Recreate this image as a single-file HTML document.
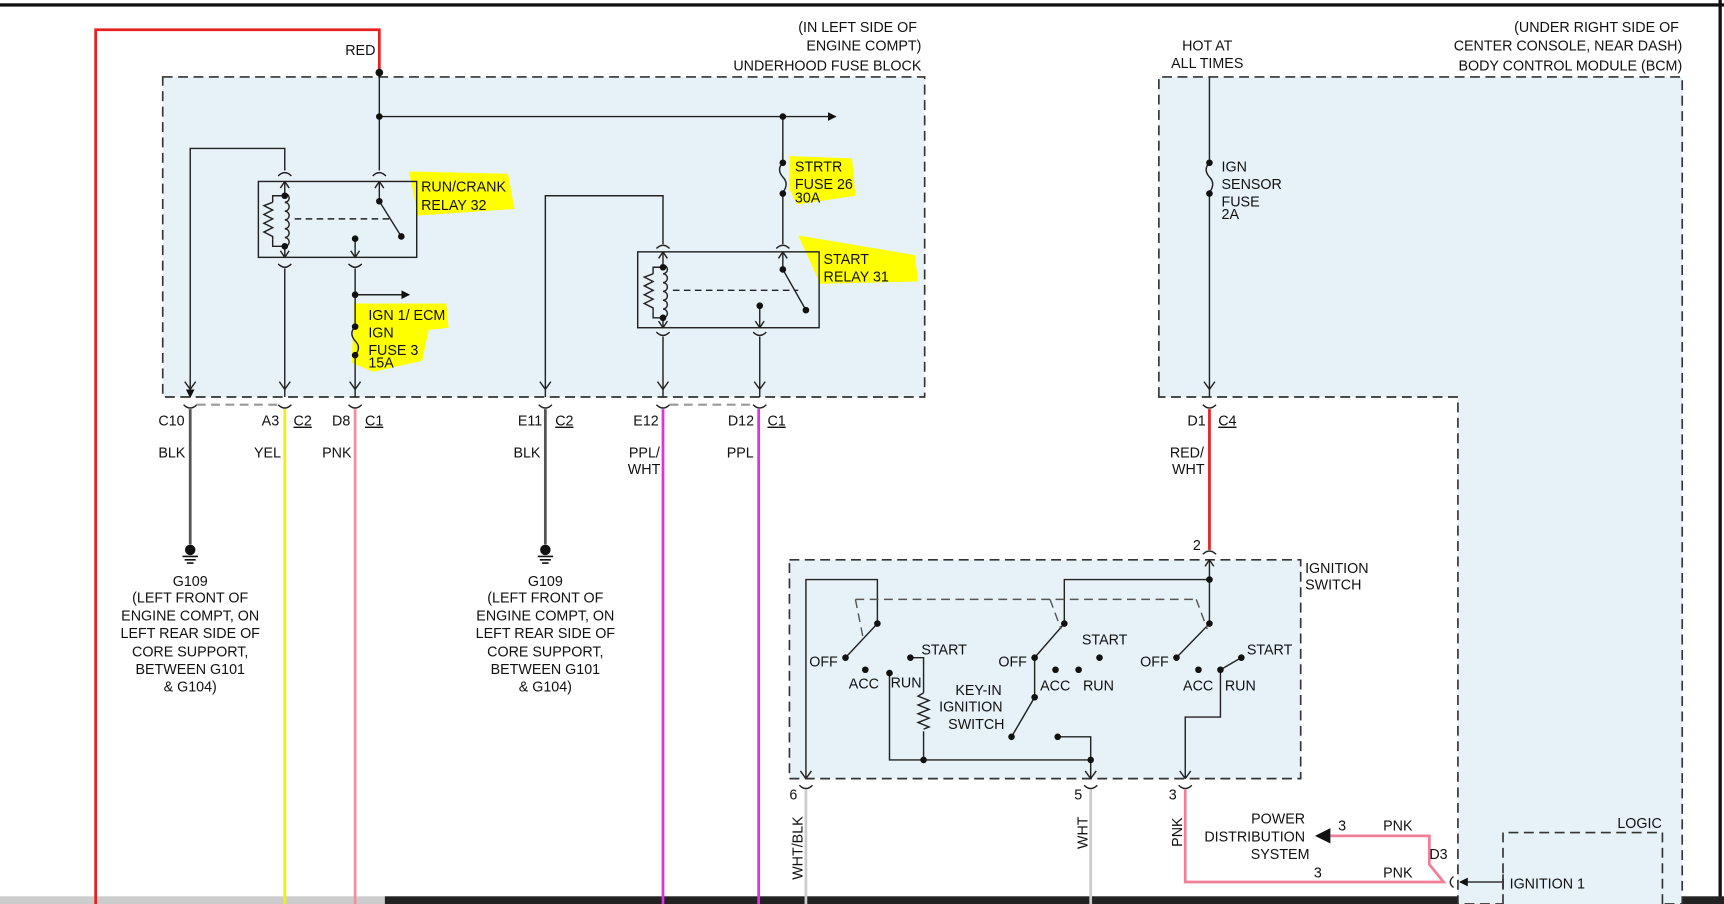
<!DOCTYPE html>
<html><head><meta charset="utf-8"><style>
html,body{margin:0;padding:0;background:#fff}
svg{display:block}
text{font-family:"Liberation Sans",sans-serif;font-size:13px;fill:#111}
</style></head><body>
<svg width="1724" height="904" viewBox="0 0 1568 822" preserveAspectRatio="none" xmlns="http://www.w3.org/2000/svg">
<defs>
<marker id="a" markerWidth="8" markerHeight="8" refX="7" refY="4" orient="auto" markerUnits="userSpaceOnUse"><path d="M0,0 L8,4 L0,8 z" fill="#111"/></marker>
</defs>
<rect width="1568" height="822" fill="#fff"/>
<rect x="0" y="3" width="1568" height="3" fill="#111"/>
<rect x="1563" y="0" width="3" height="822" fill="#111"/>
<rect x="0" y="815" width="350" height="7" fill="#ccc"/>
<rect x="350" y="815" width="1218" height="7" fill="#222"/>
<g stroke="#333" stroke-width="1.5" stroke-dasharray="9,5" fill="#e6f2f8">
<rect x="148" y="70" width="693" height="291"/>
<path d="M1054,361 L1054,70 L1530,70 L1530,822 L1326,822 L1326,361 Z"/>
<rect x="718" y="509" width="465" height="199"/>
<path d="M1367,822 L1367,757 L1512,757 L1512,822"/>
</g>
<g fill="#ffff00">
<path d="M372,156 L462,158 L468,190 L380,196 Z"/>
<path d="M718,142 L775,144 L778,178 L725,186 L718,172 Z"/>
<path d="M726,214 L832,232 L835,256 L746,258 Z"/>
<path d="M322,276 L406,276 L408,298 L390,300 L384,328 L340,338 L320,330 Z"/>
</g>
<path d="M87,822 L87,27 L345,27 L345,66" stroke="#e82020" stroke-width="2.5" fill="none"/>
<g stroke="#222" stroke-width="1.3" fill="none">
<path d="M345,66 L345,155"/>
<path d="M345,106 L760,106" marker-end="url(#a)"/>
<path d="M712,106 L712,148 M712,176 L712,222"/>
<path d="M712,148 q-6,6 0,13 q6,6 0,14"/>
<rect x="235" y="165" width="144" height="69"/>
<path d="M173,361 L173,135 L259,135 L259,155" />
<path d="M173,350 L173,361" marker-end="url(#a)"/>
<path d="M259,165 L259,176 M259,224 L259,234"/>
<path d="M259,176 a4,4 0 0 1 0,8 a4,4 0 0 1 0,8 a4,4 0 0 1 0,8 a4,4 0 0 1 0,8 a4,4 0 0 1 0,8 a4,4 0 0 1 0,8"/>
<path d="M259,178 L248,178 L248,184 M248,218 L248,224 L259,224"/>
<path d="M248,184 l-8,3 l8,4 l-8,4 l8,4 l-8,4 l8,4 l-8,4 l8,4 l0,3"/>
<path d="M268,199 L356,199" stroke-dasharray="6,4"/>
<path d="M345,165 L345,183 L365,215"/>
<path d="M323,217 L323,234"/>
<path d="M259,244 L259,361 M323,244 L323,297 M323,323 L323,361"/>
<path d="M323,297 q-6,6 0,13 q6,6 0,13"/>
<path d="M323,268 L372,268" marker-end="url(#a)"/>
<path d="M496,361 L496,178 L603,178 L603,222"/>
<rect x="580" y="229" width="165" height="69"/>
<path d="M603,229 L603,241 M603,289 L603,298"/>
<path d="M603,241 a4,4 0 0 1 0,8 a4,4 0 0 1 0,8 a4,4 0 0 1 0,8 a4,4 0 0 1 0,8 a4,4 0 0 1 0,8 a4,4 0 0 1 0,8"/>
<path d="M603,243 L594,243 L594,249 M594,283 L594,289 L603,289"/>
<path d="M594,249 l-8,3 l8,4 l-8,4 l8,4 l-8,4 l8,4 l-8,4 l8,4 l0,3"/>
<path d="M612,264 L726,264" stroke-dasharray="6,4"/>
<path d="M712,229 L712,245 L733,282"/>
<path d="M691,278 L691,298"/>
<path d="M603,306 L603,361 M691,306 L691,361"/>
<path d="M1100,70 L1100,148 M1100,176 L1100,361"/>
<path d="M1100,148 q-6,6 0,13 q6,6 0,14"/>
</g>
<g stroke="#222" stroke-width="1.3" fill="none">
<path d="M173,354 l-5,-7 M173,354 l5,-7 M259,354 l-5,-7 M259,354 l5,-7 M323,354 l-5,-7 M323,354 l5,-7 M496,354 l-5,-7 M496,354 l5,-7 M603,354 l-5,-7 M603,354 l5,-7 M691,354 l-5,-7 M691,354 l5,-7 M1100,354 l-5,-7 M1100,354 l5,-7"/>
<path d="M259,234 l-4,-6 M259,234 l4,-6 M259,165 l-4,6 M259,165 l4,6 M345,165 l-4,6 M345,165 l4,6 M323,234 l-4,-6 M323,234 l4,-6 M603,229 l-4,6 M603,229 l4,6 M603,298 l-4,-6 M603,298 l4,-6 M712,229 l-4,6 M712,229 l4,6 M691,298 l-4,-6 M691,298 l4,-6"/>
<path d="M253,160 q6,-6 12,0 M339,160 q6,-6 12,0 M253,240 q6,6 12,0 M317,240 q6,6 12,0 M597,226 q6,-6 12,0 M706,226 q6,-6 12,0 M597,302 q6,6 12,0 M685,302 q6,6 12,0"/>
<path d="M167,368 q6,6 12,0 M253,368 q6,6 12,0 M317,368 q6,6 12,0 M490,368 q6,6 12,0 M597,368 q6,6 12,0 M685,368 q6,6 12,0 M1094,368 q6,6 12,0"/>
</g>
<g stroke="#999" stroke-width="2" stroke-dasharray="8,5"><path d="M179,368 L253,368 M609,368 L685,368"/></g>
<g fill="#111">
<circle cx="345" cy="66" r="3.5"/><circle cx="345" cy="106" r="3"/><circle cx="712" cy="106" r="3"/>
<circle cx="712" cy="148" r="3"/><circle cx="712" cy="176" r="3"/>
<circle cx="259" cy="178" r="3"/><circle cx="259" cy="224" r="3"/><circle cx="345" cy="183" r="3"/><circle cx="365" cy="215" r="3"/><circle cx="323" cy="217" r="3"/>
<circle cx="323" cy="268" r="3"/><circle cx="323" cy="297" r="3"/><circle cx="323" cy="323" r="3"/>
<circle cx="603" cy="243" r="3"/><circle cx="603" cy="289" r="3"/><circle cx="712" cy="245" r="3"/><circle cx="733" cy="282" r="3"/><circle cx="691" cy="278" r="3"/>
<circle cx="1100" cy="148" r="3"/><circle cx="1100" cy="176" r="3"/>
</g>
<path d="M173,372 L173,495" stroke="#555" stroke-width="2.5"/>
<path d="M496,372 L496,495" stroke="#555" stroke-width="2.5"/>
<path d="M259,372 L259,822" stroke="#f5f000" stroke-width="2.5"/>
<path d="M323,372 L323,822" stroke="#f0909f" stroke-width="2.5"/>
<path d="M603,372 L603,822" stroke="#e030e0" stroke-width="2.5"/>
<path d="M690,372 L690,822" stroke="#e030e0" stroke-width="2.5"/>
<path d="M1100,372 L1100,500" stroke="#e82020" stroke-width="2.5"/>
<g stroke="#111" stroke-width="1.5"><circle cx="173" cy="500" r="4" fill="#111"/><path d="M166,506 h14 M168,509 h10 M170,512 h6"/><circle cx="496" cy="500" r="4" fill="#111"/><path d="M489,506 h14 M491,509 h10 M493,512 h6"/></g>
<g stroke="#222" stroke-width="1.3" fill="none">
<path d="M1094,504 q6,-6 12,0"/>
<path d="M1100,509 L1100,567 M1100,527 L968,527 L968,567 L941,598 M1100,567 L1070,598"/>
<path d="M1100,509 l-4,6 M1100,509 l4,6"/>
<path d="M733,708 L733,527 L798,527 L798,567 L769,598"/>
<path d="M778,545 L1088,545 M778,545 L785,580 M955,545 L965,572 M1088,545 L1098,572" stroke-dasharray="8,5" stroke="#555"/>
<path d="M828,598 L840,598 L840,630 M840,665 L840,691 M809,612 L809,691 L992,691 L992,708 M962,670 L992,670 L992,691"/>
<path d="M840,630 l-5,3 l10,4 l-10,4 l10,4 l-10,4 l10,4 l-10,4 l10,4 l-5,2"/>
<path d="M941,598 L941,634 L920,670"/>
<path d="M1110,609 L1129,598 M1110,609 L1110,652 L1078,652 L1078,708"/>
<path d="M733,708 l-5,-7 M733,708 l5,-7 M992,708 l-5,-7 M992,708 l5,-7 M1078,708 l-5,-7 M1078,708 l5,-7"/>
<path d="M727,714 q6,6 12,0 M986,714 q6,6 12,0 M1072,714 q6,6 12,0"/>
</g>
<g fill="#111">
<circle cx="1100" cy="527" r="3"/><circle cx="1100" cy="567" r="3"/><circle cx="968" cy="567" r="3"/><circle cx="798" cy="567" r="3"/>
<circle cx="769" cy="598" r="3"/><circle cx="787" cy="609" r="3"/><circle cx="809" cy="612" r="3"/><circle cx="828" cy="598" r="3"/>
<circle cx="840" cy="691" r="3"/><circle cx="992" cy="691" r="3"/><circle cx="962" cy="670" r="3"/><circle cx="920" cy="670" r="3"/>
<circle cx="941" cy="598" r="3"/><circle cx="941" cy="634" r="3"/><circle cx="960" cy="609" r="3"/><circle cx="981" cy="609" r="3"/><circle cx="1000" cy="598" r="3"/>
<circle cx="1070" cy="598" r="3"/><circle cx="1090" cy="609" r="3"/><circle cx="1110" cy="609" r="3"/><circle cx="1129" cy="598" r="3"/>
</g>
<path d="M733,718 L733,822 M992,718 L992,822" stroke="#ccc" stroke-width="2.5"/>
<path d="M1078,718 L1078,802 L1313,802 L1300,786 L1300,760 L1210,760" stroke="#f08098" stroke-width="2.5" fill="none"/>
<path d="M1196,760 L1210,753 L1210,767 Z" fill="#111"/>
<path d="M1322,797 q-6,5 0,10" stroke="#222" fill="none" stroke-width="1.3"/>
<path d="M1367,802 L1328,802" stroke="#333" stroke-width="1.3" marker-end="url(#a)"/>
<path d="M1367,795 L1367,809" stroke="#333" stroke-width="1.5"/>
<text x="314" y="50">RED</text>
<text x="834" y="29" text-anchor="end">(IN LEFT SIDE OF</text>
<text x="838" y="46" text-anchor="end">ENGINE COMPT)</text>
<text x="838" y="64" text-anchor="end">UNDERHOOD FUSE BLOCK</text>
<text x="1098" y="46" text-anchor="middle">HOT AT</text>
<text x="1098" y="62" text-anchor="middle">ALL TIMES</text>
<text x="1527" y="29" text-anchor="end">(UNDER RIGHT SIDE OF</text>
<text x="1530" y="46" text-anchor="end">CENTER CONSOLE, NEAR DASH)</text>
<text x="1530" y="64" text-anchor="end">BODY CONTROL MODULE (BCM)</text>
<text x="383" y="174">RUN/CRANK</text><text x="383" y="191">RELAY 32</text>
<text x="723" y="156">STRTR</text><text x="723" y="172">FUSE 26</text><text x="723" y="184">30A</text>
<text x="749" y="240">START</text><text x="749" y="256">RELAY 31</text>
<text x="335" y="291">IGN 1/ ECM</text><text x="335" y="307">IGN</text><text x="335" y="323">FUSE 3</text><text x="335" y="334">15A</text>
<text x="1111" y="156">IGN</text><text x="1111" y="172">SENSOR</text><text x="1111" y="188">FUSE</text><text x="1111" y="199">2A</text>
<text x="144" y="387">C10</text><text x="238" y="387">A3</text><text x="267" y="387" text-decoration="underline">C2</text>
<text x="302" y="387">D8</text><text x="332" y="387" text-decoration="underline">C1</text>
<text x="471" y="387">E11</text><text x="505" y="387" text-decoration="underline">C2</text>
<text x="576" y="387">E12</text><text x="662" y="387">D12</text><text x="698" y="387" text-decoration="underline">C1</text>
<text x="1080" y="387">D1</text><text x="1108" y="387" text-decoration="underline">C4</text>
<text x="144" y="416">BLK</text><text x="231" y="416">YEL</text><text x="293" y="416">PNK</text><text x="467" y="416">BLK</text>
<text x="572" y="416">PPL/</text><text x="571" y="431">WHT</text><text x="661" y="416">PPL</text>
<text x="1064" y="416">RED/</text><text x="1066" y="431">WHT</text>
<g text-anchor="middle">
<text x="173" y="533">G109</text><text x="173" y="548">(LEFT FRONT OF</text><text x="173" y="564">ENGINE COMPT, ON</text><text x="173" y="580">LEFT REAR SIDE OF</text><text x="173" y="597">CORE SUPPORT,</text><text x="173" y="613">BETWEEN G101</text><text x="173" y="629">&amp; G104)</text>
<text x="496" y="533">G109</text><text x="496" y="548">(LEFT FRONT OF</text><text x="496" y="564">ENGINE COMPT, ON</text><text x="496" y="580">LEFT REAR SIDE OF</text><text x="496" y="597">CORE SUPPORT,</text><text x="496" y="613">BETWEEN G101</text><text x="496" y="629">&amp; G104)</text>
</g>
<text x="1085" y="500">2</text>
<text x="1187" y="521">IGNITION</text><text x="1187" y="536">SWITCH</text>
<text x="736" y="606">OFF</text><text x="772" y="626">ACC</text><text x="810" y="625">RUN</text><text x="838" y="595">START</text>
<text x="908" y="606">OFF</text><text x="946" y="628">ACC</text><text x="985" y="628">RUN</text><text x="984" y="586">START</text>
<text x="1037" y="606">OFF</text><text x="1076" y="628">ACC</text><text x="1114" y="628">RUN</text><text x="1134" y="595">START</text>
<text x="890" y="632" text-anchor="middle">KEY-IN</text><text x="883" y="647" text-anchor="middle">IGNITION</text><text x="888" y="663" text-anchor="middle">SWITCH</text>
<text x="718" y="727">6</text><text x="977" y="727">5</text><text x="1063" y="727">3</text>
<text transform="translate(730,800) rotate(-90)">WHT/BLK</text>
<text transform="translate(989,772) rotate(-90)">WHT</text>
<text transform="translate(1075,770) rotate(-90)">PNK</text>
<text x="1187" y="749" text-anchor="end">POWER</text><text x="1187" y="765" text-anchor="end">DISTRIBUTION</text><text x="1191" y="781" text-anchor="end">SYSTEM</text>
<text x="1217" y="755">3</text><text x="1258" y="755">PNK</text>
<text x="1300" y="781">D3</text>
<text x="1195" y="798">3</text><text x="1258" y="798">PNK</text>
<text x="1471" y="753">LOGIC</text>
<text x="1373" y="808">IGNITION 1</text>
</svg>
</body></html>
